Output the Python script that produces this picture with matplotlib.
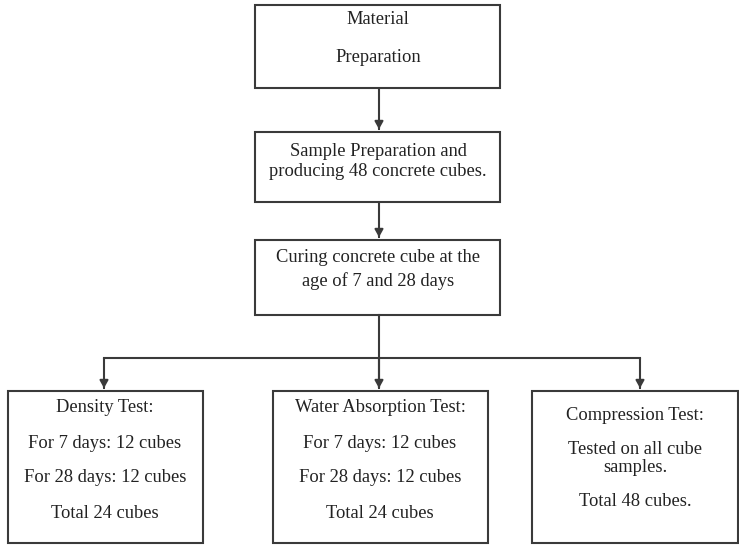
import matplotlib
matplotlib.use("Agg")
import matplotlib.pyplot as plt
from matplotlib.patches import Rectangle

# Text content
top_labels = ["Material", "Preparation"]
sample_labels = ["Sample Preparation and", "producing 48 concrete cubes."]
curing_labels = ["Curing concrete cube at the", "age of 7 and 28 days"]
density_labels = ["Density Test:", "For 7 days: 12 cubes", "For 28 days: 12 cubes", "Total 24 cubes"]
water_labels = ["Water Absorption Test:", "For 7 days: 12 cubes", "For 28 days: 12 cubes", "Total 24 cubes"]
compression_labels = ["Compression Test:", "Tested on all cube", "samples.", "Total 48 cubes."]

W, H = 739, 546
fig = plt.figure(figsize=(W / 100, H / 100), dpi=100)
ax = fig.add_axes([0, 0, 1, 1])
ax.set_xlim(0, W)
ax.set_ylim(H, 0)
ax.axis("off")

LC = "#3a3a3a"
LW = 1.5
FONT = "Liberation Serif"
FS = 13.3

def box(x0, y0, x1, y1):
    ax.add_patch(Rectangle((x0, y0), x1 - x0, y1 - y0, fill=False, ec=LC, lw=LW))

def texts(cx, ys, labels):
    for y, t in zip(ys, labels):
        ax.text(cx, y, t, ha="center", va="center", fontsize=FS, family=FONT, color="#222222")

def arrow(x, y0, y1):
    ax.plot([x, x], [y0, y1 - 4], color=LC, lw=LW, solid_capstyle="butt")
    ax.annotate("", xy=(x, y1), xytext=(x, y1 - 6),
                arrowprops=dict(arrowstyle="-|>,head_length=0.45,head_width=0.25", color=LC, lw=LW))

# Top boxes
box(255, 5, 500, 88)
texts(378, [20, 57], top_labels)
arrow(379, 88, 132)

box(255, 132, 500, 202)
texts(378, [152, 171], sample_labels)
arrow(379, 202, 240)

box(255, 240, 500, 315)
texts(378, [258, 281], curing_labels)

# Branch
ax.plot([379, 379], [315, 387], color=LC, lw=LW)
ax.plot([104, 640], [358, 358], color=LC, lw=LW)
arrow(104, 358, 391)
arrow(379, 358, 391)
arrow(640, 358, 391)

# Bottom boxes
box(8, 391, 203, 543)
texts(105, [408, 443, 478, 513], density_labels)

box(273, 391, 488, 543)
texts(380, [408, 443, 478, 513], water_labels)

box(532, 391, 738, 543)
texts(635, [415, 450, 467, 502], compression_labels)

fig.savefig("out.png", dpi=100, facecolor="white")
